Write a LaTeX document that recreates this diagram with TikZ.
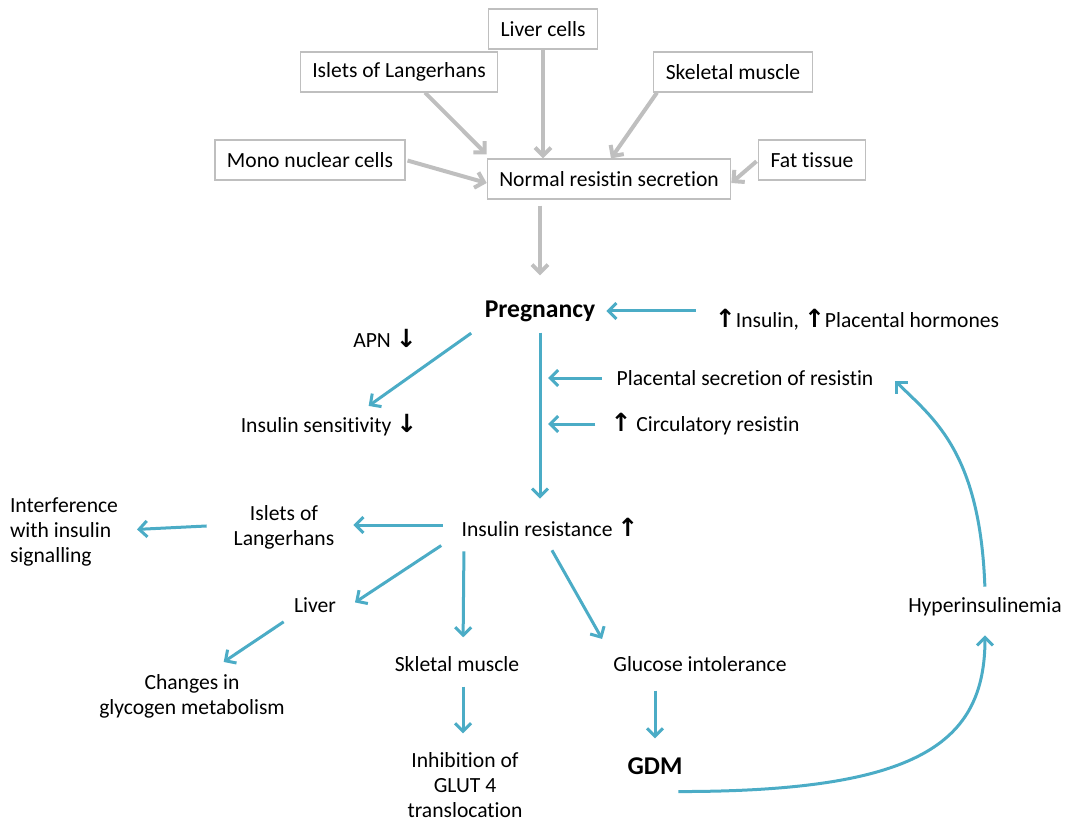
\documentclass[tikz,border=0pt]{standalone}
\usepackage{fontspec}
\setmainfont{Carlito}[Ligatures=NoCommon]
\newfontfamily\arrowfont{DejaVu Sans}
\usepackage{tikz}
\usetikzlibrary{arrows.meta}
\definecolor{linkteal}{HTML}{4BACC6}
\newcommand{\uparr}{{\arrowfont\bfseries\fontsize{12.5}{12.5}\selectfont ↑}}
\newcommand{\downarr}{{\arrowfont\bfseries\fontsize{12.5}{12.5}\selectfont ↓}}
\begin{document}
\begin{tikzpicture}[
      x=0.5pt, y=-0.5pt,
      font=\fontsize{10.8}{12.5}\selectfont,
      source box/.style={draw=black!25,line width=0.6pt,minimum height=20pt,inner xsep=6pt},
      main node/.style={align=center},
      key node/.style={font=\fontsize{12.8}{15}\selectfont\bfseries},
      gray link/.style={-{Straight Barb[length=4pt,width=8pt]},line width=2pt,black!25},
      teal link/.style={-{Straight Barb[length=4pt,width=8pt]},line width=1.5pt,linkteal}
      ]
      \useasboundingbox (0,0) rectangle (1069,823);
      % sources of resistin
      \node [source box] (liver cells) at (543,29) {Liver cells};
      \node [source box] (islets cells) at (399,72) {Islets of Langerhans};
      \node [source box] (skeletal cells) at (733,72) {Skeletal muscle};
      \node [source box] (mono cells) at (310,160) {Mono nuclear cells};
      \node [source box] (fat cells) at (812,160) {Fat tissue};
      \node [source box] (normal secretion) at (609,179) {Normal resistin secretion};
      % gray arrows
      \draw [gray link] ([xshift=13pt]islets cells.south) -- ([yshift=2pt]normal secretion.north west);
      \draw [gray link] (liver cells) -- (liver cells |- normal secretion.north);
      \draw [gray link] ([xshift=-38pt]skeletal cells.south) -- ([xshift=1pt]normal secretion.north);
      \draw [gray link,shorten <=1pt] (mono cells.east) -- ([yshift=-2pt]normal secretion.west);
      \draw [gray link,shorten <=1pt] (fat cells.west) -- ([yshift=-2pt]normal secretion.east);
      % pregnancy
      \node [main node,key node] (pregnancy) at (540,311) {Pregnancy};
      \draw [gray link,shorten <=3pt,shorten >=9pt] (normal secretion.south -| pregnancy) -- (pregnancy.north);
      \node [main node] (hormones) at (857,320) {\uparr Insulin, \uparr Placental hormones};
      \draw [teal link,shorten <=6pt,shorten >=2pt] (hormones.west |- pregnancy) -- (pregnancy.east);
      \node [main node] (apn) at (385,338) {APN \downarr};
      \node [main node] (sensitivity) at (329,425) {Insulin sensitivity \downarr};
      \draw [teal link,shorten <=4pt,shorten >=1pt] (pregnancy.south west) -- ([xshift=19pt]sensitivity.north);
      \node [main node] (placental) at (745,378) {Placental secretion of resistin};
      \node [main node] (circulatory) at (705,424) {\uparr\ Circulatory resistin};
      \node [main node] (resistance) at (550,527) {Insulin resistance \uparr};
      \draw [teal link,shorten <=2pt,shorten >=6pt] (pregnancy.south) -- (pregnancy.south |- resistance.north);
      \draw [teal link,shorten <=4pt,shorten >=4pt] (placental.west) -- (placental.west -| pregnancy.south);
      \draw [teal link,shorten <=4pt,shorten >=4pt] (circulatory.west) -- (circulatory.west -| pregnancy.south);
      % effects of insulin resistance
      \node [main node] (islets) at (284,527) {Islets of\\Langerhans};
      \node [align=left] (interference) at (64,532) {Interference\\with insulin\\signalling};
      \node [main node] (liver) at (315,605) {Liver};
      \node [main node] (changes) at (192,696) {Changes in\\glycogen metabolism};
      \node [main node] (skletal) at (457,664) {Skletal muscle};
      \node [main node] (inhibition) at (465,785) {Inhibition of\\GLUT 4\\translocation};
      \node [main node] (glucose) at (700,664) {Glucose intolerance};
      \node [main node,key node] (gdm) at (655,766) {GDM};
      \node [main node] (hyper) at (985,607) {Hyperinsulinemia};
      \draw [teal link,shorten <=6pt,shorten >=6pt] ([yshift=1pt]resistance.west) -- ([yshift=1pt]islets.east);
      \draw [teal link,shorten <=10pt,shorten >=6pt] ([yshift=1pt]islets.west) -- ([yshift=1pt]interference.east);
      \draw [teal link,shorten <=2pt] ([xshift=-5pt]resistance.south west) -- ([xshift=6pt,yshift=-6pt]liver.north east);
      \draw [teal link,shorten <=2pt,shorten >=1pt] (liver.south west) -- ([xshift=15pt,yshift=2pt]changes.north);
      \draw [teal link,shorten <=4pt,shorten >=6pt] ([xshift=-43pt]resistance.south) -- ([xshift=3pt]skletal.north);
      \draw [teal link,shorten <=4pt,shorten >=6pt] ([xshift=3pt]skletal.south) -- ([xshift=3pt]skletal.south |- inhibition.north);
      \draw [teal link,shorten <=4pt,shorten >=6pt] ([xshift=-1pt]resistance.south) -- ([xshift=-46pt]glucose.north);
      \draw [teal link,shorten <=6pt,shorten >=6pt] (gdm.north |- glucose.south) -- (gdm.north);
      % feedback loop
      \draw [teal link,shorten >=6pt] ([xshift=-5.5pt,yshift=-5pt]gdm.south east) .. controls +(240,0) and +(0,120) .. (hyper.south);
      \draw [teal link,shorten <=2pt,shorten >=2pt] (hyper.north) .. controls +(-5,-140) and +(40,40) .. ([xshift=6pt]placental.east);
    \end{tikzpicture}
\end{document}
